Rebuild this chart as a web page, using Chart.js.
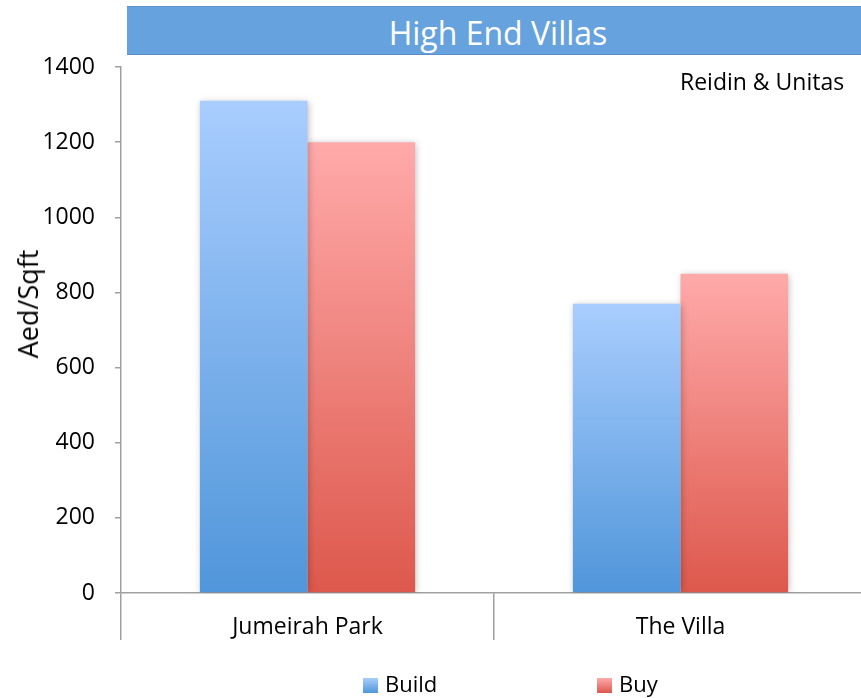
<!DOCTYPE html>
<html>
<head>
<meta charset="utf-8">
<script src="https://cdn.jsdelivr.net/npm/chart.js@4.4.1/dist/chart.umd.min.js"></script>
<style>
    html, body { margin: 0; padding: 0; background: #fff; overflow: hidden; }
    .wrap { position: relative; width: 861px; height: 698px; overflow: hidden; font-family: "Open Sans", sans-serif; }
    .wrap canvas { position: absolute; left: 0; top: 0; }
    .titlebar {
        position: absolute; left: 127px; top: 6px; width: 740px; height: 47px;
        background: #66a2dd; border-top: 1px solid #5b93cf; border-bottom: 1px solid #5a8ec8;
        color: #fff; font-size: 32px; line-height: 52px; text-align: center;
    }
    .titlebar span { position: relative; left: 1px; }
    .note { position: absolute; left: 680px; top: 66px; font-size: 23px; line-height: 31px; color: #000; }
    .ytitle {
        position: absolute; left: 28px; top: 304px; font-size: 27px; line-height: 32px; color: #000;
        transform: translate(-50%, -50%) rotate(-90deg); white-space: nowrap;
    }
    .legend { position: absolute; top: 668px; font-size: 22px; color: #000; line-height: 30px; }
    .legend i { display: inline-block; width: 15px; height: 15px; margin-right: 7px; vertical-align: -1px; }
</style>
</head>
<body>
<div class="wrap">
    <canvas id="myChart" width="867" height="698"></canvas>
    <div class="titlebar"><span>High End Villas</span></div>
    <div class="note">Reidin &amp; Unitas</div>
    <div class="ytitle">Aed/Sqft</div>
    <div class="legend" style="left:363px"><i style="background:linear-gradient(#a9cdfe,#5096da)"></i>Build</div>
    <div class="legend" style="left:597px"><i style="background:linear-gradient(#ffaaaa,#dd584c)"></i>Buy</div>
</div>
<script>
// datos del grafico
const categories = ['Jumeirah Park', 'The Villa'];
const buildValues = [1310, 770];
const buyValues = [1200, 850];
const yTicks = [0, 200, 400, 600, 800, 1000, 1200, 1400];

const axisGray = '#a0a0a0';

// degradado por barra (de arriba hacia abajo)
function barGradient(top, bottom) {
    return function (context) {
        const chart = context.chart;
        if (!chart.chartArea || context.parsed == null) return bottom;
        const y = chart.scales.y;
        const y0 = y.getPixelForValue(0);
        const y1 = y.getPixelForValue(context.parsed.y);
        const g = chart.ctx.createLinearGradient(0, y1, 0, y0);
        g.addColorStop(0, top);
        g.addColorStop(1, bottom);
        return g;
    };
}

// sombra suave detras de las barras
const barShadow = {
    id: 'barShadow',
    beforeDatasetsDraw(chart) {
        const ctx = chart.ctx;
        ctx.save();
        ctx.shadowColor = 'rgba(0,0,0,0.28)';
        ctx.shadowBlur = 7;
        ctx.shadowOffsetX = 1;
        ctx.shadowOffsetY = 1;
    },
    afterDatasetsDraw(chart) {
        chart.ctx.restore();
    }
};

const ctx = document.getElementById('myChart').getContext('2d');

const myChart = new Chart(ctx, {
    type: 'bar',
    data: {
        labels: categories,
        datasets: [{
            label: 'Build',
            data: buildValues,
            backgroundColor: barGradient('#a9cdfe', '#5096da'),
            borderWidth: 0
        }, {
            label: 'Buy',
            data: buyValues,
            backgroundColor: barGradient('#ffaaaa', '#dd584c'),
            borderWidth: 0
        }]
    },
    plugins: [barShadow],
    options: {
        responsive: false,
        animation: false,
        devicePixelRatio: 1,
        categoryPercentage: 0.577,
        barPercentage: 1.0,
        layout: { padding: { top: 67, left: 0, right: 0, bottom: 0 } },
        plugins: {
            legend: { display: false },
            title: { display: false },
            tooltip: { enabled: false }
        },
        scales: {
            x: {
                offset: true,
                grid: {
                    offset: true,
                    drawOnChartArea: false,
                    tickLength: 47,
                    color: axisGray,
                    lineWidth: 1.5
                },
                border: { color: axisGray, width: 1.5 },
                ticks: {
                    color: '#000',
                    padding: -26,
                    font: { family: 'Open Sans', size: 23 }
                },
                afterFit: function (scale) { scale.height = 105; }
            },
            y: {
                min: 0,
                max: 1400,
                afterBuildTicks: function (scale) {
                    scale.ticks = yTicks.map(v => ({ value: v }));
                },
                grid: {
                    drawOnChartArea: false,
                    tickLength: 6,
                    color: axisGray,
                    lineWidth: 1.5
                },
                border: { color: axisGray, width: 1.5 },
                ticks: {
                    color: '#000',
                    padding: 20,
                    font: { family: 'Open Sans', size: 23 },
                    callback: function (value) { return String(value); }
                },
                afterFit: function (scale) { scale.width = 121; }
            }
        }
    }
});
</script>
</body>
</html>
